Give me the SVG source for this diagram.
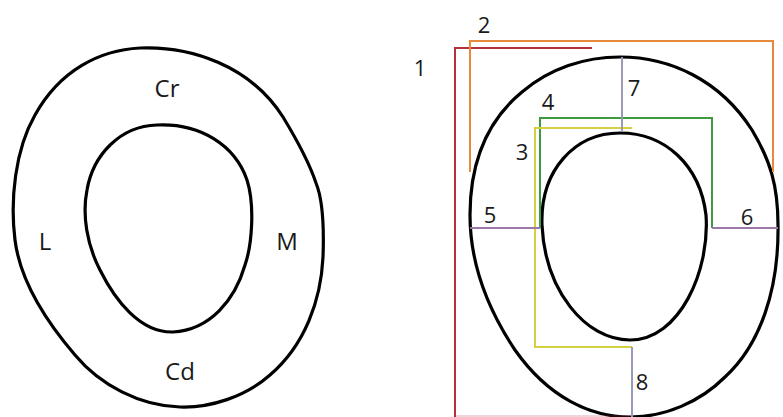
<svg xmlns="http://www.w3.org/2000/svg" width="783" height="417" viewBox="0 0 783 417">
<style>
.sh{fill:none;stroke:#000;stroke-width:3.2;stroke-linejoin:round}
.ln{fill:none;stroke-width:2;stroke-linejoin:miter}
.t{font-family:"Open Sans","Noto Sans","Liberation Sans",sans-serif;font-size:24px;fill:#1a1a1a;text-anchor:middle}
.n{font-family:"Open Sans","Noto Sans","Liberation Sans",sans-serif;font-size:22px;fill:#1a1a1a;text-anchor:middle}
</style>
<rect width="783" height="417" fill="#fff"/>
<g id="left-figure">
<path class="sh" d="M140,48 C190,46 250,65 283,117 C300,145 310,165 316,183 C323,200 324,230 323,257 C321,300 305,345 270,375 C245,397 210,408 180,407 C140,406 100,385 75,355 C45,320 20,280 15,240 C10,200 15,150 35,115 C60,70 100,50 140,48 Z"/>
<path class="sh" d="M157,125 C200,123 235,145 247,180 C255,205 252,245 245,265 C235,300 210,330 173,332 C140,333 115,300 100,270 C87,245 82,215 87,190 C93,155 120,126 157,125 Z"/>
<text class="t" x="167" y="97">Cr</text>
<text class="t" x="45" y="250">L</text>
<text class="t" x="287" y="250">M</text>
<text class="t" x="180" y="380">Cd</text>
</g>
<g id="right-figure">
<path class="sh" d="M620,57 C670,57 720,80 752,130 C770,160 778,185 778,225 C779,290 760,345 725,377 C700,402 665,417 630,417 C590,417 548,397 515,350 C485,305 470,260 470,215 C470,160 488,120 522,92 C550,68 585,57 620,57 Z"/>
<path class="sh" d="M620,133 C665,133 700,165 706,215 C710,270 680,340 630,340 C585,340 545,290 542,225 C540,170 575,133 620,133 Z"/>
</g>
<g id="connectors">
<path class="ln" stroke="#b5303a" d="M592,48 H455 V417"/>
<path class="ln" stroke="#b5303a" stroke-opacity="0.2" d="M455,416 H630"/>
<path class="ln" stroke="#e8883a" d="M470,172 V41 H773 V172"/>
<path class="ln" stroke="#3f9a3f" d="M540,228 V118 H712 V228"/>
<path class="ln" stroke="#d6d040" d="M632,128 H535 V347 H632"/>
<path class="ln" stroke="#9a9ab8" stroke-width="1.6" d="M622,57 V132"/>
<path class="ln" stroke="#9a9ab8" stroke-width="1.6" d="M632,347 V417"/>
<path class="ln" stroke="#9a78a8" d="M470,228 H540"/>
<path class="ln" stroke="#9a78a8" d="M712,228 H778"/>
</g>
<g id="labels">
<text class="n" x="420" y="76">1</text>
<text class="n" x="484" y="33">2</text>
<text class="n" x="522" y="160">3</text>
<text class="n" x="548" y="110">4</text>
<text class="n" x="490" y="223">5</text>
<text class="n" x="747" y="225">6</text>
<text class="n" x="634" y="96">7</text>
<text class="n" x="642" y="390">8</text>
</g>
</svg>
